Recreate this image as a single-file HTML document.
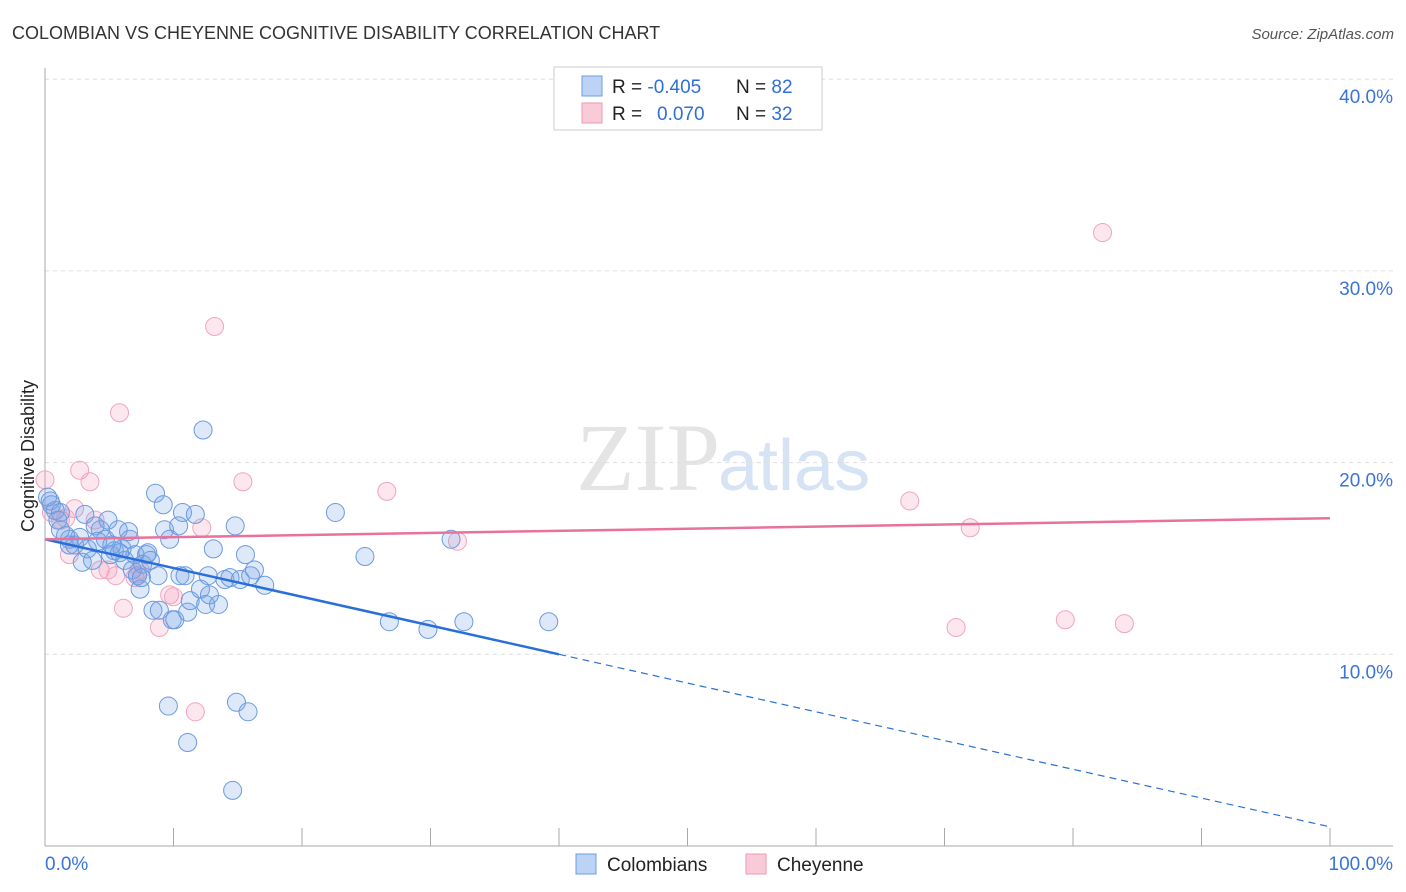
<!DOCTYPE html><html><head><meta charset="utf-8"><style>
body{margin:0;background:#fff;font-family:"Liberation Sans",sans-serif;overflow:hidden}
</style></head><body>
<svg width="1406" height="892" xmlns="http://www.w3.org/2000/svg" style="font-family:'Liberation Sans',sans-serif;display:block">
<text x="12" y="39" font-size="18" fill="#333">COLOMBIAN VS CHEYENNE COGNITIVE DISABILITY CORRELATION CHART</text>
<text x="1394" y="39" font-size="15" fill="#555" text-anchor="end" font-style="italic">Source: ZipAtlas.com</text>
<text x="720" y="490" font-size="96" fill="#e4e4e4" text-anchor="end" font-family="Liberation Serif,serif">ZIP</text>
<text x="718" y="490" font-size="72" fill="#d6e3f5">atlas</text>
<g id="grid"></g><g id="axes"></g><g id="marks"></g>
<text transform="translate(34,456) rotate(-90)" font-size="18" fill="#222" text-anchor="middle">Cognitive Disability</text>
<rect x="554" y="67" width="268" height="63" fill="#fff" stroke="#ccc"/>
<rect x="582" y="76" width="20" height="20" fill="#bcd3f5" stroke="#6d9de0"/>
<rect x="582" y="103" width="20" height="20" fill="#f9cad8" stroke="#ee9ab5"/>
<text x="612" y="93" font-size="19" fill="#222">R = <tspan fill="#2f6fd6">-0.405</tspan><tspan x="736">N = </tspan><tspan fill="#2f6fd6">82</tspan></text>
<text x="612" y="120" font-size="19" fill="#222">R = <tspan x="657" fill="#2f6fd6">0.070</tspan><tspan x="736">N = </tspan><tspan fill="#2f6fd6">32</tspan></text>
<rect x="576" y="854" width="20" height="20" fill="#bcd3f5" stroke="#6d9de0"/>
<text x="607" y="871" font-size="19" fill="#222">Colombians</text>
<rect x="746" y="854" width="20" height="20" fill="#f9cad8" stroke="#ee9ab5"/>
<text x="777" y="871" font-size="19" fill="#222">Cheyenne</text>
</svg>
<script>
const blueX=[0.4,0.5,0.8,0.2,1.2,1.0,1.6,1.9,2.3,2.7,3.1,3.3,3.9,4.3,4.7,4.9,5.1,5.4,5.7,6.0,6.2,6.5,6.8,7.0,7.2,7.4,7.6,7.9,8.0,8.2,8.4,8.6,8.8,8.9,9.2,9.3,9.7,9.9,10.1,10.4,10.5,10.7,10.9,11.1,11.3,11.7,12.1,12.3,12.5,12.7,12.8,13.1,13.5,14.0,14.4,14.8,15.2,15.6,16.0,16.3,17.1,22.6,24.9,26.8,29.8,31.6,32.6,39.2,9.6,14.9,15.8,11.1,14.6,2.9,3.7,5.8,1.2,4.1,5.2,6.6,1.9,7.5];
const blueY=[18.0,17.8,17.5,18.2,17.4,17.0,16.2,16.0,15.7,16.1,17.3,15.5,16.7,16.5,16.0,17.0,15.2,15.4,16.5,15.5,14.9,16.4,14.4,15.2,14.1,13.4,14.7,15.2,15.3,14.9,12.3,18.4,14.1,12.3,17.8,16.5,16.0,11.8,11.8,16.7,14.1,17.4,14.1,12.2,12.8,17.3,13.4,21.7,12.6,14.1,13.1,15.5,12.6,13.9,14.0,16.7,13.9,15.2,14.1,14.4,13.6,17.4,15.1,11.7,11.3,16.0,11.7,11.7,7.3,7.5,7.0,5.4,2.9,14.8,14.9,15.3,16.5,15.9,15.7,16.0,15.7,14.0];
const pinkX=[0,0.5,1.2,2.3,2.7,3.5,1.9,3.9,4.3,4.9,5.5,5.8,6.1,7.0,7.2,7.4,8.9,9.7,10.0,11.7,12.2,13.2,15.4,26.6,32.1,67.3,72.0,70.9,79.4,84.0,82.3,1.6];
const pinkY=[19.1,17.4,17.0,17.6,19.6,19.0,15.2,17.0,14.4,14.4,14.1,22.6,12.4,14.0,14.2,14.4,11.4,13.1,13.0,7.0,16.6,27.1,19.0,18.5,15.9,18.0,16.6,11.4,11.8,11.6,32.0,17.1];
const yTicks=[10,20,30,40];
const xTickLabels=["0.0%","100.0%"];
const blueTrend=[16.0,-0.15];
const pinkTrend=[16.0,0.011];
const NS="http://www.w3.org/2000/svg";
const sx=v=>45+v*12.85, sy=v=>846-v*19.17;
function mk(t,a,p){const e=document.createElementNS(NS,t);for(const k in a)e.setAttribute(k,a[k]);document.getElementById(p).appendChild(e);return e;}
yTicks.forEach(t=>{
 const l=mk('line',{x1:45,x2:1393,y1:sy(t),y2:sy(t),stroke:'#ddd','stroke-dasharray':'4,4'},'grid');
 
 
 const tx=mk('text',{x:1393,y:sy(t)+24,'font-size':19,fill:'#3a74d6','text-anchor':'end'},'grid');
 tx.textContent=t.toFixed(1)+'%';
 
 
});
let ax=mk('line',{x1:45,x2:45,y1:68,y2:846,stroke:'#aaa'},'axes');


ax=mk('line',{x1:45,x2:1393,y1:846,y2:846,stroke:'#aaa'},'axes');


for(let i=0;i<=10;i++){const t=mk('line',{x1:sx(i*10),x2:sx(i*10),y1:828,y2:846,stroke:'#aaa'},'axes');
 
 }
let xl=mk('text',{x:45,y:870,'font-size':19,fill:'#3a74d6'},'axes');xl.textContent=xTickLabels[0];


xl=mk('text',{x:1393,y:870,'font-size':19,fill:'#3a74d6','text-anchor':'end'},'axes');xl.textContent=xTickLabels[1];


pinkX.forEach((x,i)=>{const c=mk('circle',{cx:sx(x),cy:sy(pinkY[i]),r:9,fill:'rgba(244,160,188,0.25)',stroke:'#f0a5bd','stroke-width':1},'marks');
 
 });
blueX.forEach((x,i)=>{const c=mk('circle',{cx:sx(x),cy:sy(blueY[i]),r:9,fill:'rgba(120,165,232,0.25)',stroke:'#6b9ae0','stroke-width':1},'marks');
 
 });
const bt=x=>blueTrend[0]+blueTrend[1]*x, pt=x=>pinkTrend[0]+pinkTrend[1]*x;
let tl=mk('line',{x1:sx(0),y1:sy(bt(0)),x2:sx(40),y2:sy(bt(40)),stroke:'#2a6fd8','stroke-width':2.5},'marks');


tl=mk('line',{x1:sx(40),y1:sy(bt(40)),x2:sx(100),y2:sy(bt(100)),stroke:'#2a6fd8','stroke-width':1.2,'stroke-dasharray':'7,5'},'marks');


tl=mk('line',{x1:sx(0),y1:sy(pt(0)),x2:sx(100),y2:sy(pt(100)),stroke:'#e8729a','stroke-width':2.5},'marks');


</script></body></html>
